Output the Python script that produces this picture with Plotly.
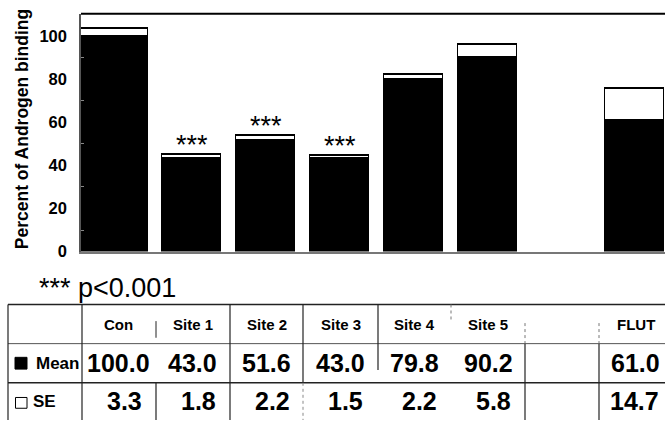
import plotly.graph_objects as go

# Androgen binding per injection site
categories = ["Con", "Site 1", "Site 2", "Site 3", "Site 4", "Site 5", "", "FLUT"]
means = [100.0, 43.0, 51.6, 43.0, 79.8, 90.2, None, 61.0]
ses = [3.3, 1.8, 2.2, 1.5, 2.2, 5.8, None, 14.7]
significant = [False, True, True, True, False, False, False, False]
y_ticks = [0, 20, 40, 60, 80, 100]

W, H = 665, 429
FONT = "Liberation Sans, Arial, Helvetica, sans-serif"


def px(x):
    return x / W


def py(y):
    return 1 - y / H


positions = list(range(len(categories)))
# first bar starts flush against the y axis
widths = [0.907] + [0.8] * (len(categories) - 1)
offsets = [-0.5] + [-0.4] * (len(categories) - 1)

fig = go.Figure()
fig.add_trace(go.Bar(
    x=positions, y=means, width=widths, offset=offsets,
    marker=dict(color="black", line=dict(color="black", width=1)),
    name="Mean", showlegend=False,
))
fig.add_trace(go.Bar(
    x=positions, y=ses, width=widths, offset=offsets,
    marker=dict(color="white", line=dict(color="black", width=1.5)),
    name="SE", showlegend=False,
))

annotations = []
for i, (m, s, sig) in enumerate(zip(means, ses, significant)):
    if sig:
        annotations.append(dict(
            x=i, y=m + s, xref="x", yref="y", text="***", showarrow=False,
            yanchor="bottom", yshift=-7,
            font=dict(family=FONT, size=27, color="black"),
        ))

# y axis title
annotations.append(dict(
    x=px(22), y=py(132), xref="paper", yref="paper", text="Percent of Androgen binding",
    textangle=-90, showarrow=False, xanchor="center", yanchor="middle",
    font=dict(family=FONT, size=17.5, color="black", weight="bold"),
))

# significance key
annotations.append(dict(
    x=px(37), y=py(294), xref="paper", yref="paper",
    text="<span style='font-size:27px'>***</span> p&lt;0.001",
    showarrow=False, xanchor="left", yanchor="middle",
    font=dict(family=FONT, size=27, color="black"),
))

# data table under the chart
col_left = 82.0
col_w = 73.86
row_top, row_head, row_mean, row_bottom = 311, 351, 391, 429
y_head = (row_top + row_head) / 2
y_mean = (row_head + row_mean) / 2
y_se = (row_mean + row_bottom) / 2

for i, (cat, m, s) in enumerate(zip(categories, means, ses)):
    cx = col_left + col_w * (i + 0.5)
    right = col_left + col_w * (i + 1)
    if cat:
        annotations.append(dict(
            x=px(cx), y=py(y_head), xref="paper", yref="paper", text=cat,
            showarrow=False, xanchor="center", yanchor="middle",
            font=dict(family=FONT, size=15, color="black", weight="bold"),
        ))
    if m is not None:
        annotations.append(dict(
            x=px(cx), y=py(y_mean), xref="paper", yref="paper", text=f"{m:.1f}",
            showarrow=False, xanchor="center", yanchor="middle",
            font=dict(family=FONT, size=25, color="black", weight="bold"),
        ))
    if s is not None:
        annotations.append(dict(
            x=px(right - 12), y=py(y_se), xref="paper", yref="paper", text=f"{s:.1f}",
            showarrow=False, xanchor="right", yanchor="middle",
            font=dict(family=FONT, size=25, color="black", weight="bold"),
        ))

annotations.append(dict(
    x=px(34), y=py(y_mean), xref="paper", yref="paper", text="Mean",
    showarrow=False, xanchor="left", yanchor="middle",
    font=dict(family=FONT, size=17, color="black", weight="bold"),
))
annotations.append(dict(
    x=px(31), y=py(y_se), xref="paper", yref="paper", text="SE",
    showarrow=False, xanchor="left", yanchor="middle",
    font=dict(family=FONT, size=17, color="black", weight="bold"),
))

shapes = []


def hline(y, x0, x1, width=1.2, color="#222", dash="solid"):
    shapes.append(dict(type="line", xref="paper", yref="paper",
                       x0=px(x0), x1=px(x1), y0=py(y), y1=py(y),
                       line=dict(color=color, width=width, dash=dash)))


def vline(x, y0, y1, width=1.2, color="#222", dash="solid"):
    shapes.append(dict(type="line", xref="paper", yref="paper",
                       x0=px(x), x1=px(x), y0=py(y0), y1=py(y1),
                       line=dict(color=color, width=width, dash=dash)))


# frame line along the top of the plot
hline(14, 81, W, width=2, color="black")

# table rules
hline(row_top, 8, W, width=1.5)
hline(row_head, 8, W, width=1, color="#555")
hline(row_mean, 8, W, width=1.5)
vline(8, row_top, row_bottom)
vline(82, row_top, row_bottom)
vline(156, 328, 345, width=1)
vline(156, row_mean, row_bottom)
vline(230, row_top, row_bottom)
vline(303, row_top, row_mean)
vline(303, row_mean, row_bottom, width=1, color="#888", dash="dot")
vline(378, row_top, 378)
vline(451, row_top, 328, width=1, color="#777", dash="dot")
vline(525, 330, row_head, width=1, color="#777", dash="dot")
vline(525, row_head, row_bottom)
vline(599, 330, row_head, width=1, color="#777", dash="dot")
vline(599, row_head, row_bottom)

# legend swatches in the row labels
shapes.append(dict(type="rect", xref="paper", yref="paper",
                   x0=px(15), x1=px(27), y0=py(377), y1=py(365),
                   fillcolor="black", line=dict(color="black", width=1)))
shapes.append(dict(type="rect", xref="paper", yref="paper",
                   x0=px(15.5), x1=px(27), y0=py(417), y1=py(406),
                   fillcolor="white", line=dict(color="black", width=1)))

fig.update_layout(
    width=W, height=H,
    margin=dict(l=0, r=0, t=0, b=0),
    paper_bgcolor="white", plot_bgcolor="white",
    barmode="stack", bargap=0,
    showlegend=False,
    annotations=annotations,
    shapes=shapes,
    xaxis=dict(
        domain=[px(81), 1], range=[-0.5, 7.407],
        showticklabels=False, ticks="", showgrid=False, zeroline=False,
        showline=True, linecolor="#777", linewidth=1.5,
    ),
    yaxis=dict(
        domain=[py(257), py(14)], range=[0, 243 / 2.2],
        tickvals=y_ticks, ticks="", ticklabelstandoff=9,
        tickfont=dict(family=FONT, size=16.5, color="black", weight="bold"),
        minor=dict(tickvals=[10, 30, 50, 70, 90], ticks="inside", ticklen=3,
                   tickcolor="#888", showgrid=False),
        showgrid=False, zeroline=False,
        showline=True, linecolor="#555", linewidth=1.5,
    ),
)

fig.write_html("out.html")
